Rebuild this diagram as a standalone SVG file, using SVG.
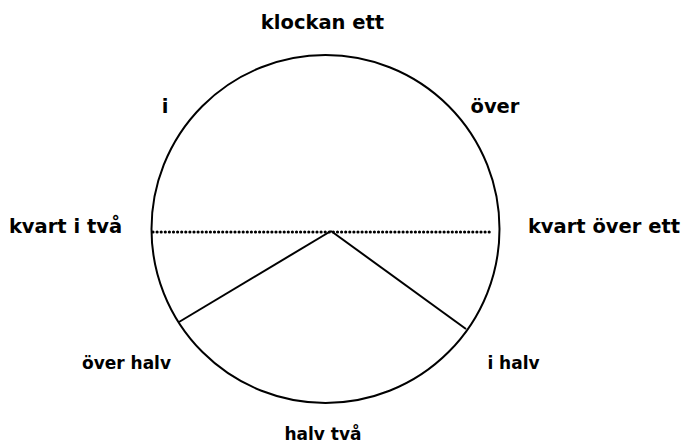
<svg xmlns="http://www.w3.org/2000/svg" width="685" height="445" viewBox="0 0 685 445">
<style>
.lbl{font-family:"DejaVu Sans","Liberation Sans",sans-serif;font-weight:bold;fill:#000}
.big{font-size:19.5px}
.sm{font-size:17px}
.ln{stroke:#000;stroke-width:2;fill:none}
.dot{stroke:#000;stroke-width:3.2;stroke-linecap:round;stroke-dasharray:0 4.1;fill:none}
</style>
<rect width="685" height="445" fill="#fff"/>
<g id="clock">
<circle cx="325.5" cy="229" r="174" class="ln"/>
</g>
<g id="connectors">
<line x1="153" y1="232" x2="491" y2="232" class="dot"/>
<line x1="331" y1="231" x2="179" y2="322" class="ln"/>
<line x1="331" y1="231" x2="466" y2="329" class="ln"/>
</g>
<g id="label-klockan-ett"><text class="lbl big" x="322.5" y="29" text-anchor="middle">klockan ett</text></g>
<g id="label-i"><text class="lbl big" x="165" y="113" text-anchor="middle">i</text></g>
<g id="label-over"><text class="lbl big" x="495" y="113" text-anchor="middle">över</text></g>
<g id="label-kvart-i-tva"><text class="lbl big" x="65.5" y="233" text-anchor="middle">kvart i två</text></g>
<g id="label-kvart-over-ett"><text class="lbl big" x="604" y="233" text-anchor="middle">kvart över ett</text></g>
<g id="label-over-halv"><text class="lbl sm" x="126.5" y="369" text-anchor="middle">över halv</text></g>
<g id="label-i-halv"><text class="lbl sm" x="513.5" y="369" text-anchor="middle">i halv</text></g>
<g id="label-halv-tva"><text class="lbl sm" x="323" y="440" text-anchor="middle">halv två</text></g>
</svg>
